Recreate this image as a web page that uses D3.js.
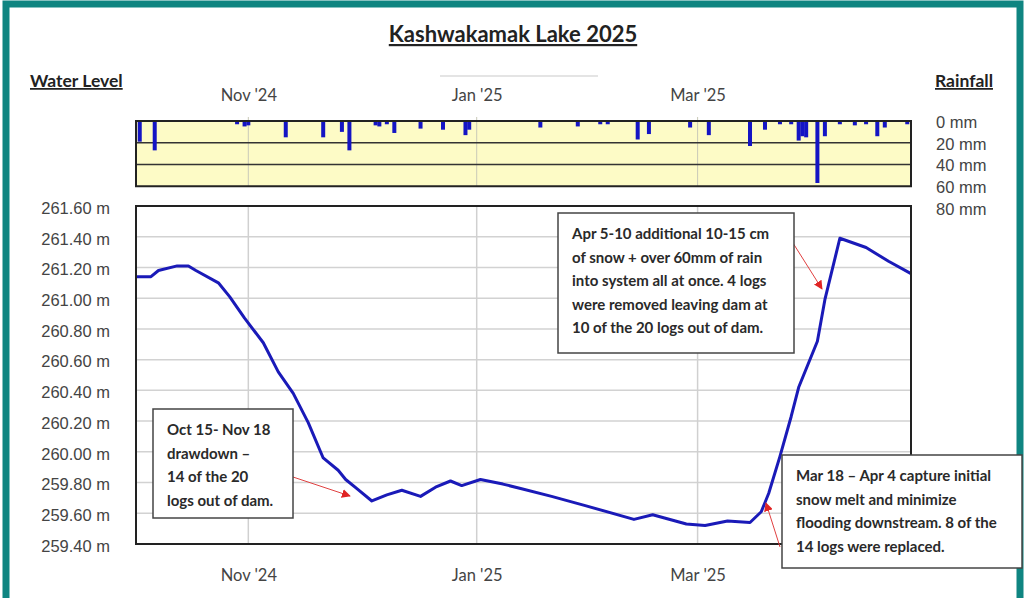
<!DOCTYPE html>
<html>
<head>
<meta charset="utf-8">
<script src="https://cdn.jsdelivr.net/npm/d3@7"></script>
<style>
  body { margin: 0; background: #fff; }
  text { font-family: "Liberation Sans", Arial, sans-serif; }
</style>
</head>
<body>
<script>
// water level readings (m)
const levelDates = ["2024-10-02","2024-10-06","2024-10-08","2024-10-13","2024-10-16","2024-10-18","2024-10-24","2024-10-27",
  "2024-10-31","2024-11-05","2024-11-09","2024-11-13","2024-11-17","2024-11-21","2024-11-25","2024-11-27","2024-11-30",
  "2024-12-04","2024-12-08","2024-12-12","2024-12-17","2024-12-21","2024-12-25","2024-12-28","2025-01-02","2025-01-08",
  "2025-01-13","2025-01-21","2025-01-30","2025-02-12","2025-02-17","2025-02-26","2025-03-03","2025-03-09","2025-03-15",
  "2025-03-18","2025-03-20","2025-03-23","2025-03-26","2025-03-28","2025-04-02","2025-04-04","2025-04-08","2025-04-15",
  "2025-04-21","2025-04-27"];
const levels = [261.14,261.14,261.18,261.21,261.21,261.18,261.10,261.01,
  260.87,260.71,260.52,260.38,260.19,259.96,259.88,259.82,259.76,
  259.68,259.72,259.75,259.71,259.77,259.81,259.78,259.82,259.79,
  259.76,259.71,259.65,259.56,259.59,259.53,259.52,259.55,259.54,
  259.61,259.73,259.97,260.23,260.42,260.72,260.99,261.39,261.33,
  261.24,261.16];

// daily rainfall (mm)
const rainDates = ["2024-10-03","2024-10-07","2024-10-29","2024-10-31","2024-11-01","2024-11-11","2024-11-21","2024-11-26",
  "2024-11-28","2024-12-05","2024-12-06","2024-12-08","2024-12-10","2024-12-17","2024-12-23","2024-12-29","2024-12-30",
  "2025-01-18","2025-01-28","2025-02-03","2025-02-05","2025-02-13","2025-02-16","2025-02-27","2025-03-04","2025-03-15",
  "2025-03-19","2025-03-23","2025-03-26","2025-03-28","2025-03-29","2025-03-30","2025-04-02","2025-04-04","2025-04-08",
  "2025-04-12","2025-04-15","2025-04-18","2025-04-20","2025-04-26"];
const rainMm = [19,27,3,5,4,15,15,10,
  27,4,5,3,11,7,8,13,8,
  6,5,3,3,17,12,6,13,23,
  8,3,3,18,14,15,57,14,3,
  4,3,14,6,3];

const levelTicks = [259.4,259.6,259.8,260.0,260.2,260.4,260.6,260.8,261.0,261.2,261.4,261.6];
const rainTicks = [0,20,40,60,80];
const monthTicks = ["2024-11-01","2025-01-01","2025-03-01"];
const monthLabels = ["Nov '24","Jan '25","Mar '25"];

const notes = [
  { lines: ["Oct 15- Nov 18","drawdown \u2013","14 of the 20","logs out of dam."], box: [153,409,140,109], arrow: [293,477,350,496] },
  { lines: ["Apr 5-10 additional 10-15 cm","of snow + over 60mm of rain","into system all at once. 4 logs","were removed leaving dam at","10 of the 20 logs out of dam."], box: [558,213,236,140], arrow: [793,243,822,289] },
  { lines: ["Mar 18 \u2013 Apr 4 capture initial","snow melt and minimize","flooding downstream. 8 of the","14 logs were replaced."], box: [782,455,240,113], arrow: [780,547,766,503] }
];

const parse = d3.timeParse("%Y-%m-%d");
const svg = d3.select("body").append("svg").attr("width", 1026).attr("height", 598);

const x = d3.scaleTime().domain([parse("2024-10-02"), parse("2025-04-27")]).range([136, 911]);
const y = d3.scaleLinear().domain([259.4, 261.6]).range([544, 206]);
const r = d3.scaleLinear().domain([0, 80]).range([121, 208]);
const left = 136, right = 911;

// frame
svg.append("rect").attr("x", 6).attr("y", 4).attr("width", 1014).attr("height", 620)
  .attr("fill", "none").attr("stroke", "#0f8581").attr("stroke-width", 7);

// title
svg.append("text").attr("x", 513).attr("y", 42).attr("text-anchor", "middle")
  .style("font-family", "Lato, sans-serif").style("font-weight", "bold").style("font-size", "22px")
  .style("text-decoration", "underline").attr("fill", "#222").text("Kashwakamak Lake 2025");
svg.append("line").attr("x1", 440).attr("x2", 598).attr("y1", 76).attr("y2", 76)
  .attr("stroke", "#e4e4e4").attr("stroke-width", 2);

svg.append("text").attr("x", 30).attr("y", 87)
  .style("font-family", "Lato, sans-serif").style("font-weight", "bold").style("font-size", "17.5px")
  .style("text-decoration", "underline").attr("fill", "#222").text("Water Level");
svg.append("text").attr("x", 935).attr("y", 87)
  .style("font-family", "Lato, sans-serif").style("font-weight", "bold").style("font-size", "17.5px")
  .style("text-decoration", "underline").attr("fill", "#222").text("Rainfall");

// rainfall panel
svg.append("rect").attr("x", left).attr("y", r(0)).attr("width", right - left).attr("height", r(60) - r(0))
  .attr("fill", "#fdfbc6");
svg.append("g").selectAll("line").data(monthTicks).join("line")
  .attr("x1", d => x(parse(d))).attr("x2", d => x(parse(d)))
  .attr("y1", r(0) - 4).attr("y2", r(60)).attr("stroke", "#c9c9b8").attr("stroke-width", 1);
svg.append("g").selectAll("line").data([20, 40]).join("line")
  .attr("x1", left).attr("x2", right).attr("y1", d => r(d)).attr("y2", d => r(d))
  .attr("stroke", "#333").attr("stroke-width", 1.5);
svg.append("g").selectAll("rect").data(rainDates).join("rect")
  .attr("x", d => x(parse(d)) - 2).attr("width", 4)
  .attr("y", r(0)).attr("height", (d, i) => r(rainMm[i]) - r(0))
  .attr("fill", "#1414c4");
svg.append("rect").attr("x", left).attr("y", r(0)).attr("width", right - left).attr("height", r(60) - r(0))
  .attr("fill", "none").attr("stroke", "#222").attr("stroke-width", 2);

const rainAxis = svg.append("g").attr("transform", `translate(${right},1)`)
  .call(d3.axisRight(r).tickValues(rainTicks).tickFormat(d => d + " mm").tickSize(0).tickPadding(25));
rainAxis.select(".domain").remove();
rainAxis.selectAll("text").style("font-size", "16.5px").attr("fill", "#444");

// main panel grid
svg.append("g").selectAll("line").data(levelTicks).join("line")
  .attr("x1", left).attr("x2", right).attr("y1", d => y(d)).attr("y2", d => y(d))
  .attr("stroke", "#d2d2d2").attr("stroke-width", 1.5);
svg.append("g").selectAll("line").data(monthTicks).join("line")
  .attr("x1", d => x(parse(d))).attr("x2", d => x(parse(d)))
  .attr("y1", y(261.6)).attr("y2", y(259.4)).attr("stroke", "#d0d0d0").attr("stroke-width", 1.5);

// water level line
const pts = levelDates.map((d, i) => [parse(d), levels[i]]);
svg.append("path").datum(pts)
  .attr("fill", "none").attr("stroke", "#1a1ab8").attr("stroke-width", 3).attr("stroke-linejoin", "round")
  .attr("d", d3.line().x(d => x(d[0])).y(d => y(d[1])));

svg.append("rect").attr("x", left).attr("y", y(261.6)).attr("width", right - left).attr("height", y(259.4) - y(261.6))
  .attr("fill", "none").attr("stroke", "#222").attr("stroke-width", 2);

// axes
const yAxis = svg.append("g").attr("transform", `translate(${left},2)`)
  .call(d3.axisLeft(y).tickValues(levelTicks).tickFormat(d => d3.format(".2f")(d) + " m").tickSize(0).tickPadding(26));
yAxis.select(".domain").remove();
yAxis.selectAll("text").style("font-size", "16.5px").attr("fill", "#444");

const fmtMonth = d => monthLabels[monthTicks.indexOf(d3.timeFormat("%Y-%m-%d")(d))];
const topAxis = svg.append("g").attr("transform", "translate(0,101)")
  .call(d3.axisTop(x).tickValues(monthTicks.map(parse)).tickFormat(fmtMonth).tickSize(0).tickPadding(0));
const botAxis = svg.append("g").attr("transform", `translate(0,${y(259.4)})`)
  .call(d3.axisBottom(x).tickValues(monthTicks.map(parse)).tickFormat(fmtMonth).tickSize(0).tickPadding(25));
[topAxis, botAxis].forEach(a => {
  a.select(".domain").remove();
  a.selectAll("text").style("font-family", "Lato, sans-serif").style("font-size", "16.5px").attr("fill", "#444");
});

// annotations
svg.append("defs").append("marker").attr("id", "arr").attr("viewBox", "0 0 10 10")
  .attr("refX", 9).attr("refY", 5).attr("markerWidth", 9).attr("markerHeight", 9).attr("orient", "auto")
  .append("path").attr("d", "M0,0L10,5L0,10z").attr("fill", "#e02424");

notes.forEach(n => {
  svg.append("line").attr("x1", n.arrow[0]).attr("y1", n.arrow[1]).attr("x2", n.arrow[2]).attr("y2", n.arrow[3])
    .attr("stroke", "#e04040").attr("stroke-width", 1).attr("marker-end", "url(#arr)");
  const [bx, by, bw, bh] = n.box;
  svg.append("rect").attr("x", bx).attr("y", by).attr("width", bw).attr("height", bh)
    .attr("fill", "#fff").attr("stroke", "#444").attr("stroke-width", 1.5);
  svg.append("g").selectAll("text").data(n.lines).join("text")
    .attr("x", bx + 14).attr("y", (d, i) => by + 26 + i * 23.5)
    .style("font-family", "Lato, sans-serif").style("font-weight", "bold").style("font-size", "15px")
    .attr("fill", "#2a2a2a").text(d => d);
});
</script>
</body>
</html>
